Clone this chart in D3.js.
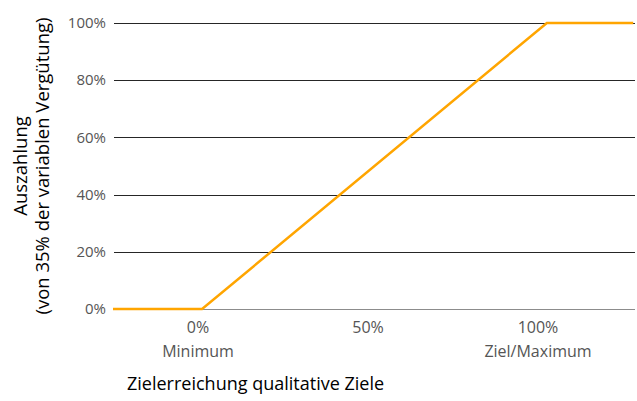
<!DOCTYPE html>
<html lang="de">
<head>
  <meta charset="UTF-8">
  <title>Auszahlung qualitative Ziele</title>
  <script src="https://d3js.org/d3.v7.min.js"></script>
  <style>
    body { margin: 0; background: #fff; }
    text { font-family: "Open Sans", "Noto Sans", sans-serif; }
  </style>
</head>
<body>
<script>
  // Zielerreichung (x) vs. Auszahlung (y), in Prozent
  const zielerreichung = [-25, 1.2, 102.6, 128];
  const auszahlung = [0, 0, 100, 100];
  const xTicks = [0, 50, 100];
  const xTickNames = ['Minimum', '', 'Ziel/Maximum'];
  const yTicks = [0, 20, 40, 60, 80, 100];

  const width = 637;
  const height = 401;

  const svg = d3.select('body')
    .append('svg')
    .attr('width', width)
    .attr('height', height);

  const x = d3.scaleLinear().domain([0, 100]).range([198, 538]);
  const y = d3.scaleLinear().domain([0, 100]).range([309, 23]);

  const left = 114, right = 635;

  // grid lines
  svg.append('g')
    .selectAll('line')
    .data(yTicks)
    .enter()
    .append('line')
    .attr('x1', left)
    .attr('x2', right)
    .attr('y1', d => Math.round(y(d)) + 0.5)
    .attr('y2', d => Math.round(y(d)) + 0.5)
    .attr('stroke', d => d === 0 ? '#8c8c8c' : '#262626')
    .attr('stroke-width', 1.2);

  // y tick labels
  svg.append('g')
    .selectAll('text')
    .data(yTicks)
    .enter()
    .append('text')
    .attr('x', 106)
    .attr('y', d => y(d))
    .attr('dy', '0.35em')
    .attr('text-anchor', 'end')
    .attr('font-size', 15)
    .attr('fill', '#555')
    .text(d => d + '%');

  // x tick labels
  const xg = svg.append('g')
    .selectAll('g')
    .data(xTicks)
    .enter()
    .append('g')
    .attr('transform', d => `translate(${x(d)},0)`);

  xg.append('text')
    .attr('y', 333)
    .attr('text-anchor', 'middle')
    .attr('font-size', 16)
    .attr('fill', '#555')
    .text(d => d + '%');

  xg.append('text')
    .attr('y', 357)
    .attr('text-anchor', 'middle')
    .attr('font-size', 16)
    .attr('fill', '#555')
    .text((d, i) => xTickNames[i]);

  // line
  const pts = zielerreichung.map((v, i) => [v, auszahlung[i]]);
  svg.append('path')
    .datum(pts)
    .attr('fill', 'none')
    .attr('stroke', '#FFA500')
    .attr('stroke-width', 2.5)
    .attr('d', d3.line().x(d => x(d[0])).y(d => y(d[1])));

  // axis titles
  svg.append('text')
    .attr('x', 127)
    .attr('y', 390)
    .attr('font-size', 18)
    .attr('fill', '#000')
    .text('Zielerreichung qualitative Ziele');

  const yt = svg.append('text')
    .attr('transform', `translate(0,${y(50)}) rotate(-90)`)
    .attr('text-anchor', 'middle')
    .attr('font-size', 18.5)
    .attr('fill', '#000');
  yt.append('tspan').attr('x', 0).attr('y', 27).text('Auszahlung');
  yt.append('tspan').attr('x', 0).attr('y', 49).text('(von 35% der variablen Vergütung)');
</script>
</body>
</html>
